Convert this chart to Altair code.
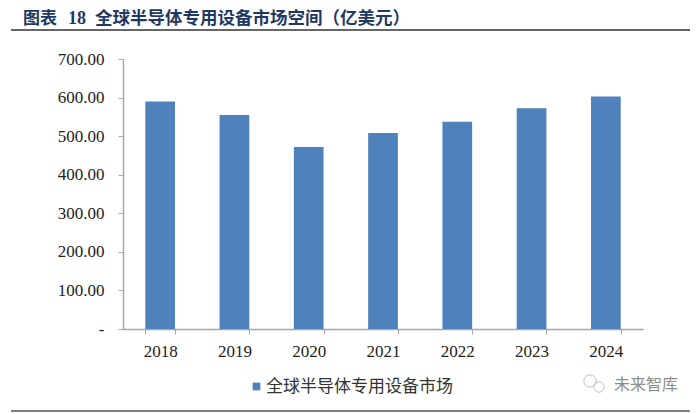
import altair as alt
import pandas as pd

years = ["2018", "2019", "2020", "2021", "2022", "2023", "2024"]
values = [590, 555, 472, 508, 537, 572, 603]
series = "全球半导体专用设备市场"
title_label = "图表"
title_number = "18"
title_text = "全球半导体专用设备市场空间（亿美元）"
watermark = "未来智库"

df = pd.DataFrame({"year": years, "value": values, "series": [series] * len(years)})

SERIF = "Liberation Serif"
CJK = "Noto Sans CJK SC"
NAVY = "#1f3864"
one = pd.DataFrame({"a": [1]})

bars = alt.Chart(df).mark_bar().encode(
    x=alt.X("year:N", sort=years, title=None,
            scale=alt.Scale(paddingInner=0.6, paddingOuter=0.3),
            axis=alt.Axis(labelAngle=0, labelFont=SERIF, labelFontSize=17, labelColor="#222222",
                          labelPadding=9, domainColor="#a6a6a6", domainWidth=1.5, tickColor="#a6a6a6",
                          tickWidth=1, tickSize=5, tickBand="extent", grid=False)),
    y=alt.Y("value:Q", title=None,
            scale=alt.Scale(domain=[0, 700], nice=False),
            axis=alt.Axis(values=[0, 100, 200, 300, 400, 500, 600, 700],
                          labelExpr="datum.value === 0 ? '-' : format(datum.value, '.2f')",
                          labelFont=SERIF, labelFontSize=17, labelColor="#222222", labelPadding=14,
                          domainColor="#a6a6a6", domainWidth=1.5, tickColor="#a6a6a6", tickWidth=1,
                          tickSize=5, grid=False)),
    color=alt.Color("series:N", title=None,
                    scale=alt.Scale(range=["#4f81bd"]),
                    legend=alt.Legend(orient="none", legendX=125, legendY=319, symbolType="square",
                                      symbolSize=60, labelFont=CJK, labelFontSize=17,
                                      labelColor="#333333", labelLimit=300, symbolStrokeWidth=0,
                                      labelOffset=1)),
)


def title_part(text, x, font, size):
    return alt.Chart(pd.DataFrame({"t": [text]})).mark_text(
        align="left", baseline="middle", font=font, fontSize=size, fontWeight="bold", color=NAVY
    ).encode(text="t:N", x=alt.value(x), y=alt.value(-40))


t1 = title_part(title_label, -100, CJK, 17)
t2 = title_part(title_number, -55, SERIF, 18)
t3 = title_part(title_text, -28, CJK, 17.5)

top_rule = alt.Chart(one).mark_rule(color="#333333", strokeWidth=1.4).encode(
    x=alt.value(-112), x2=alt.value(567), y=alt.value(-29))
bottom_rule = alt.Chart(one).mark_rule(color="#555555", strokeWidth=1.6).encode(
    x=alt.value(-112), x2=alt.value(567), y=alt.value(352))

wm = alt.Chart(pd.DataFrame({"t": [watermark]})).mark_text(
    align="left", baseline="middle", font=CJK, fontSize=16, color="#8c8c8c"
).encode(text="t:N", x=alt.value(491), y=alt.value(326))
wm_icon = alt.Chart(one).mark_point(
    shape="circle", filled=False, color="#a8a8a8", strokeWidth=1, size=150
).encode(x=alt.value(467), y=alt.value(322))
wm_icon2 = alt.Chart(one).mark_point(
    shape="circle", filled=False, color="#a8a8a8", strokeWidth=1, size=110
).encode(x=alt.value(476), y=alt.value(328))

chart = alt.layer(bars, t1, t2, t3, top_rule, bottom_rule, wm, wm_icon, wm_icon2).properties(
    width=520, height=270,
    autosize=alt.AutoSizeParams(type="none"),
    padding={"left": 115, "top": 51, "right": 49, "bottom": 84},
    background="white",
).configure_view(stroke=None)

chart.save("out.html", embed_options={"renderer": "svg", "actions": False})
